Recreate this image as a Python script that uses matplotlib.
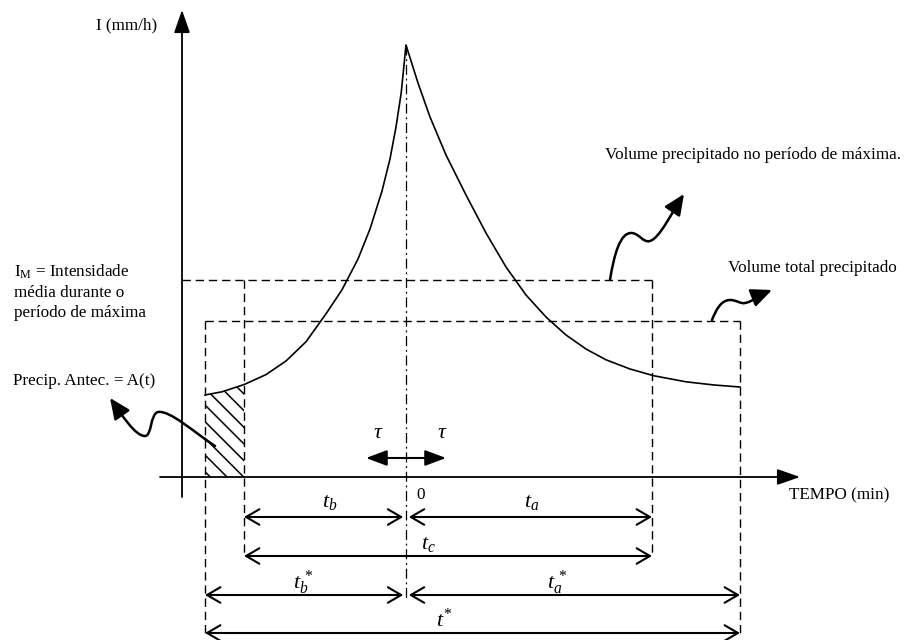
import matplotlib.pyplot as plt
from matplotlib.patches import FancyArrowPatch
from matplotlib.path import Path

plt.rcParams["font.family"] = ["Liberation Serif", "DejaVu Serif"]
plt.rcParams["mathtext.fontset"] = "custom"
plt.rcParams["mathtext.rm"] = "Liberation Serif"
plt.rcParams["mathtext.it"] = "Liberation Serif:italic"
plt.rcParams["hatch.linewidth"] = 1.1

# durations (min), measured from the peak at t = 0
t_b_star = 50.25
t_b = 40.5
t_a = 61.5
t_a_star = 83.5
tau = 10.0

# mean intensities (mm/h)
i_max_mean = 49.25
i_total_mean = 39.0

# hyetograph readings: rising and falling limbs
t_rise = [-50.25, -46, -40.5, -35, -30, -25, -20, -16, -12, -9, -6, -4, -2.5, -1.2, 0]
i_rise = [20.5, 21.3, 23.1, 25.6, 29.0, 33.8, 40.8, 46.8, 54.5, 62.0, 71.5, 79.5, 87.5, 96.0, 108]
t_fall = [0, 3, 6, 10, 15, 20, 25, 30, 35, 40, 45, 50, 56, 62, 70, 77, 83.5]
i_fall = [108, 98.5, 90, 80.5, 70.5, 61, 52.5, 45.5, 40, 35.5, 32, 29.3, 27, 25.3, 23.8, 23, 22.5]

# wavy pointer arrows (cubic bezier: start, then 3 points per segment)
wave_max = [(51, 49.25), (52, 55.5), (53.5, 61.25), (56.5, 61), (58.5, 60.75), (59.25, 58.5),
            (61, 59), (63.5, 59.75), (66.5, 66.25), (69.5, 70.75)]
wave_total = [(76.5, 39.25), (77.5, 41.75), (78.75, 44.25), (81, 44.25), (82.75, 44.25), (83.5, 43.25),
              (84.75, 43.5), (86.5, 43.75), (89, 45.75), (91.5, 46.75)]
wave_antec = [(-47.75, 7.75), (-52.75, 11), (-59, 16.75), (-62, 16.25), (-64, 15.75), (-63.5, 10.25),
              (-65.25, 10.25), (-67.75, 10.25), (-71, 15.5), (-74, 19.75)]

fig = plt.figure(figsize=(9.09, 6.40), dpi=100)
ax = fig.add_axes([0, 0, 1, 1])
ax.set_xlim(-101.5, 125.75)
ax.set_ylim(-40.75, 119.25)
ax.axis("off")

# rows of the dimension arrows below the time axis
row_tb, row_tc, row_tbs, row_ts = -10, -19.75, -29.5, -39
y_axis_t = -56

axis_arrow = dict(arrowstyle="-|>,head_length=1.0,head_width=0.35", lw=1.3, color="black",
                  shrinkA=0, shrinkB=0, mutation_scale=14)
ax.annotate("", xy=(y_axis_t, 116.75), xytext=(y_axis_t, -5), arrowprops=axis_arrow)
ax.annotate("", xy=(98.5, 0), xytext=(-61.5, 0), arrowprops=axis_arrow)

# hyetograph
ax.plot(t_rise + t_fall[1:], i_rise + i_fall[1:], color="black", lw=1.2, solid_joinstyle="round")

# antecedent precipitation (hatched)
t_h = [t for t in t_rise if t <= -t_b]
i_h = i_rise[:len(t_h)]
ax.fill_between(t_h, 0, i_h, facecolor="none", edgecolor="black", hatch="\\\\", lw=0)

# center line through the peak
ax.plot([0, 0], [108, -30.75], color="black", lw=0.9, ls=(0, (8, 3, 1.5, 3)))

dash = dict(color="black", lw=1.0, ls=(0, (6, 3.5)))
ax.plot([y_axis_t, t_a], [i_max_mean, i_max_mean], **dash)
ax.plot([-t_b, -t_b], [i_max_mean, row_tc], **dash)
ax.plot([t_a, t_a], [i_max_mean, row_tc], **dash)
ax.plot([-t_b_star, t_a_star], [i_total_mean, i_total_mean], **dash)
ax.plot([-t_b_star, -t_b_star], [i_total_mean, row_ts], **dash)
ax.plot([t_a_star, t_a_star], [i_total_mean, row_ts], **dash)


def dim_arrow(x0, x1, y, shrink0=0, shrink1=0):
    ax.annotate("", xy=(x1, y), xytext=(x0, y),
                arrowprops=dict(arrowstyle="<->,head_length=0.6,head_width=0.35", lw=1.5,
                                color="black", shrinkA=shrink0, shrinkB=shrink1, mutation_scale=16))


dim_arrow(-t_b, 0, row_tb, 0, 2)
dim_arrow(0, t_a, row_tb, 2, 0)
dim_arrow(-t_b, t_a, row_tc)
dim_arrow(-t_b_star, 0, row_tbs, 0, 2)
dim_arrow(0, t_a_star, row_tbs, 2, 0)
dim_arrow(-t_b_star, t_a_star, row_ts)

ax.annotate("", xy=(tau, 4.75), xytext=(-tau, 4.75),
            arrowprops=dict(arrowstyle="<|-|>,head_length=0.8,head_width=0.3", lw=1.5,
                            color="black", shrinkA=0, shrinkB=0, mutation_scale=16))

for pts in (wave_max, wave_total, wave_antec):
    codes = [Path.MOVETO] + [Path.CURVE4] * (len(pts) - 1)
    ax.add_patch(FancyArrowPatch(path=Path(pts, codes), arrowstyle="-|>,head_length=0.9,head_width=0.4",
                                 mutation_scale=14, lw=1.8, color="black"))

# dimension labels
lab = dict(fontsize=16, ha="center", va="center")
ax.text(-19, -6.5, "$t_b$", **lab)
ax.text(31.5, -6.5, "$t_a$", **lab)
ax.text(5.5, -17, "$t_c$", **lab)
ax.text(-25.75, -26.5, r"$t_b^{\,*}$", **lab)
ax.text(37.75, -26.5, r"$t_a^{\,*}$", **lab)
ax.text(9.5, -35.75, r"$t^{*}$", **lab)
ax.text(-7, 11, r"$\tau$", **lab)
ax.text(9, 11, r"$\tau$", **lab)

txt = dict(fontsize=12.3, va="center")
ax.text(-62.25, 113, "I (mm/h)", ha="right", **txt)
ax.text(2.5, -4.5, "0", ha="left", **txt)
ax.text(95.75, -4.5, "TEMPO (min)", ha="left", **txt)
ax.text(-98, 53.5, "I$_\\mathrm{M}$ = Intensidade\nmédia durante o\nperíodo de máxima",
        ha="left", fontsize=12.3, va="top", linespacing=1.3)
ax.text(-98.25, 24, "Precip. Antec. = A(t)", ha="left", **txt)
ax.text(49.75, 80.5, "Volume precipitado no período de máxima.", ha="left", **txt)
ax.text(80.5, 52.25, "Volume total precipitado", ha="left", **txt)

fig.savefig("out.png", dpi=100)
